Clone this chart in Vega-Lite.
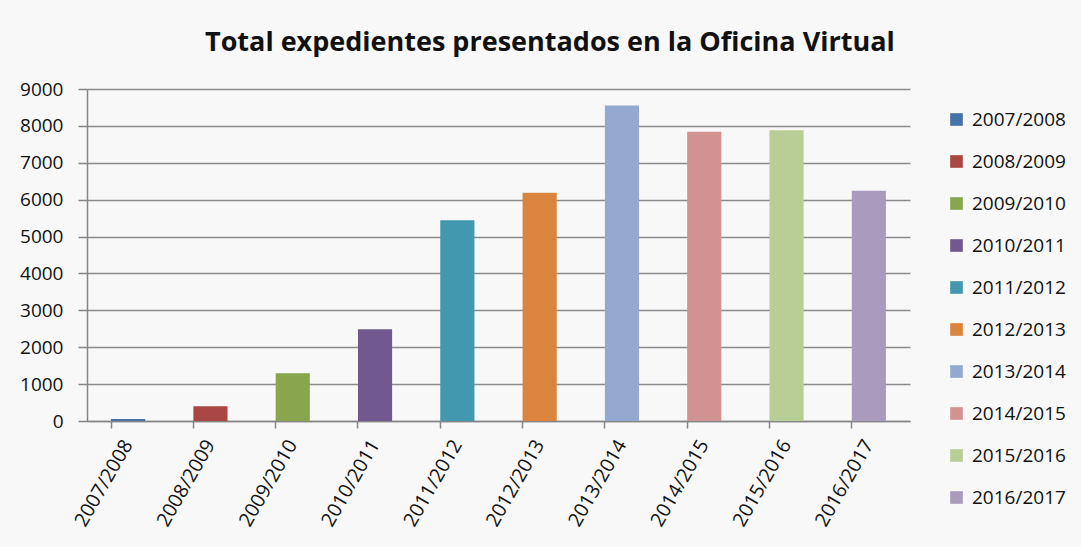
{
  "$schema": "https://vega.github.io/schema/vega-lite/v6.json",
  "autosize": "none",
  "width": 823,
  "height": 332,
  "padding": {"left": 87, "top": 89, "right": 171, "bottom": 126},
  "background": "#f8f8f8",
  "title": {
    "text": "Total expedientes presentados en la Oficina Virtual",
    "anchor": "start",
    "frame": "group",
    "dx": 118,
    "offset": 2,
    "baseline": "alphabetic",
    "font": "Open Sans",
    "fontSize": 27,
    "fontWeight": "bold",
    "color": "#111111"
  },
  "data": {
    "values": [
      {"curso": "2007/2008", "expedientes": 55},
      {"curso": "2008/2009", "expedientes": 400},
      {"curso": "2009/2010", "expedientes": 1295},
      {"curso": "2010/2011", "expedientes": 2485},
      {"curso": "2011/2012", "expedientes": 5445},
      {"curso": "2012/2013", "expedientes": 6190},
      {"curso": "2013/2014", "expedientes": 8555},
      {"curso": "2014/2015", "expedientes": 7840},
      {"curso": "2015/2016", "expedientes": 7880},
      {"curso": "2016/2017", "expedientes": 6240}
    ]
  },
  "mark": {"type": "bar"},
  "encoding": {
    "x": {
      "field": "curso",
      "type": "nominal",
      "sort": null,
      "title": null,
      "scale": {"paddingInner": 0.585, "paddingOuter": 0.2925},
      "axis": {
        "labelAngle": -60,
        "labelFontSize": 19.5,
        "labelPadding": 13,
        "tickSize": 7,
        "bandPosition": 0,
        "grid": false
      }
    },
    "y": {
      "field": "expedientes",
      "type": "quantitative",
      "title": null,
      "scale": {"domain": [0, 9000], "nice": false},
      "axis": {
        "values": [0, 1000, 2000, 3000, 4000, 5000, 6000, 7000, 8000, 9000],
        "format": "d",
        "labelFontSize": 19,
        "tickSize": 9,
        "labelPadding": 15,
        "grid": true
      }
    },
    "color": {
      "field": "curso",
      "type": "nominal",
      "sort": null,
      "title": null,
      "scale": {
        "range": ["#4572A7", "#AA4643", "#89A54E", "#71588F", "#4198AF", "#DB843D", "#93A9CF", "#D19392", "#B9CD96", "#A99BBD"]
      },
      "legend": {
        "orient": "none",
        "legendX": 860,
        "legendY": 21,
        "symbolType": "square",
        "symbolSize": 160,
        "symbolStrokeWidth": 0,
        "labelFontSize": 19,
        "labelOffset": 6,
        "rowPadding": 22,
        "padding": 0
      }
    }
  },
  "config": {
    "font": "Open Sans",
    "view": {"stroke": null},
    "axis": {
      "domainColor": "#868686",
      "domainWidth": 1.5,
      "tickColor": "#868686",
      "tickWidth": 1.5,
      "gridColor": "#8a8a8a",
      "gridWidth": 1.5,
      "labelColor": "#111111",
      "labelFont": "Open Sans"
    },
    "legend": {"labelColor": "#111111", "labelFont": "Open Sans"}
  }
}
